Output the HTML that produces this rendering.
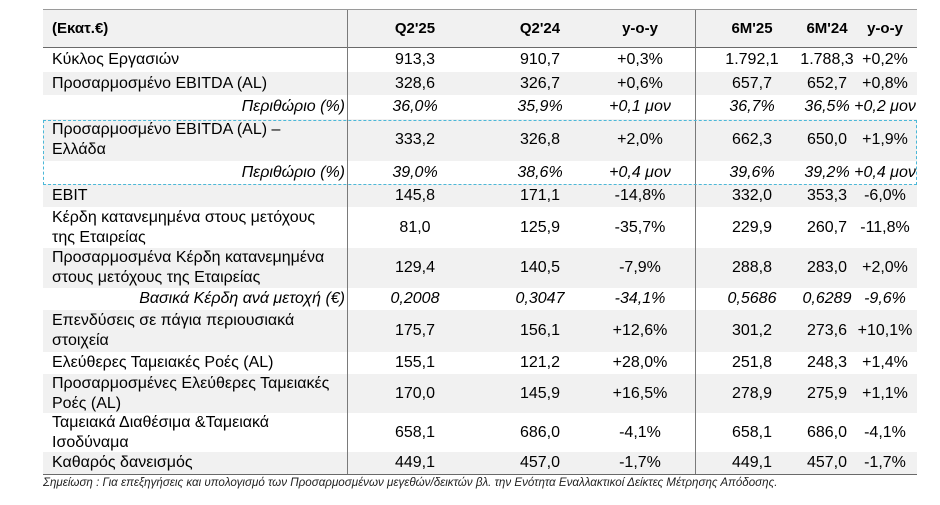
<!DOCTYPE html>
<html><head><meta charset="utf-8">
<style>
body{margin:0;width:940px;height:505px;background:#fff;position:relative;overflow:hidden;font-family:"Liberation Sans","DejaVu Sans",sans-serif;color:#000}
.row{position:absolute;left:43px;width:874px}
.c{position:absolute;top:0;height:100%;display:flex;align-items:center;justify-content:center;font-size:16px;line-height:20px}
.lab{left:9px;width:295px;justify-content:flex-start}
.lab.r{justify-content:flex-end;left:0;width:302px}
.it{font-style:italic}
.hd .c{font-weight:bold;font-size:15px}
.vl{position:absolute;width:1px;background:#7a7a7a}
</style></head><body>
<div id="tbl"></div>
<div style="position:absolute;left:43px;top:9px;width:874px;height:1px;background:#9a9a9a"></div>
<div style="position:absolute;left:43px;top:47px;width:874px;height:1px;background:#6a6a6a"></div>
<div style="position:absolute;left:43px;top:474px;width:874px;height:1px;background:#6a6a6a"></div>
<div class="vl" style="left:347px;top:10px;height:464px"></div>
<div class="vl" style="left:695px;top:10px;height:464px"></div>
<div style="position:absolute;left:43px;top:120px;width:872px;height:63px;border:1px dashed #4bb8d8"></div>
<div style="position:absolute;left:43px;top:476px;font-size:11.6px;font-style:italic;color:#222;white-space:nowrap">Σημείωση : Για επεξηγήσεις και υπολογισμό των Προσαρμοσμένων μεγεθών/δεικτών βλ. την Ενότητα Εναλλακτικοί Δείκτες Μέτρησης Απόδοσης.</div>
<script>
const centers=[415,540,640,752,827,885];
const header=["(Εκατ.€)","Q2'25","Q2'24","y-o-y","6M'25","6M'24","y-o-y"];
const rows=[
["Κύκλος Εργασιών","913,3","910,7","+0,3%","1.792,1","1.788,3","+0,2%",48,72,0,0],
["Προσαρμοσμένο EBITDA (AL)","328,6","326,7","+0,6%","657,7","652,7","+0,8%",72,95,1,0],
["Περιθώριο (%)","36,0%","35,9%","+0,1 μον","36,7%","36,5%","+0,2 μον",95,119,0,1],
["Προσαρμοσμένο EBITDA (AL) –<br>Ελλάδα","333,2","326,8","+2,0%","662,3","650,0","+1,9%",119,161,1,0],
["Περιθώριο (%)","39,0%","38,6%","+0,4 μον","39,6%","39,2%","+0,4 μον",161,184,0,1],
["EBIT","145,8","171,1","-14,8%","332,0","353,3","-6,0%",184,207,1,0],
["Κέρδη κατανεμημένα στους μετόχους<br>της Εταιρείας","81,0","125,9","-35,7%","229,9","260,7","-11,8%",207,248,0,0],
["Προσαρμοσμένα Κέρδη κατανεμημένα<br>στους μετόχους της Εταιρείας","129,4","140,5","-7,9%","288,8","283,0","+2,0%",248,288,1,0],
["Βασικά Κέρδη ανά μετοχή (€)","0,2008","0,3047","-34,1%","0,5686","0,6289","-9,6%",288,310,0,1],
["Επενδύσεις σε πάγια περιουσιακά<br>στοιχεία","175,7","156,1","+12,6%","301,2","273,6","+10,1%",310,352,1,0],
["Ελεύθερες Ταμειακές Ροές (AL)","155,1","121,2","+28,0%","251,8","248,3","+1,4%",352,374,0,0],
["Προσαρμοσμένες Ελεύθερες Ταμειακές<br>Ροές (AL)","170,0","145,9","+16,5%","278,9","275,9","+1,1%",374,413,1,0],
["Ταμειακά Διαθέσιμα &Ταμειακά<br>Ισοδύναμα","658,1","686,0","-4,1%","658,1","686,0","-4,1%",413,452,0,0],
["Καθαρός δανεισμός","449,1","457,0","-1,7%","449,1","457,0","-1,7%",452,474,1,0]
];
const tbl=document.getElementById('tbl');
function mkRow(cells,top,bot,gray,ital,hd,i){
 const r=document.createElement('div');
 r.className='row'+(hd?' hd':'');
 
 
 r.style.top=top+'px';r.style.height=(bot-top)+'px';
 r.style.background=gray?'#f1f1f1':'#fff';
 cells.forEach((t,j)=>{
  const c=document.createElement('div');
  
  
  if(j==0){c.className='c lab'+(ital?' r it':'');}
  else{c.className='c'+(ital?' it':'');c.style.left=(centers[j-1]-43-50)+'px';c.style.width='100px';}
  c.innerHTML=t;r.appendChild(c);
 });
 tbl.appendChild(r);
}
mkRow(header,10,47,1,0,1,0);
rows.forEach((r,i)=>mkRow(r.slice(0,7),r[7],r[8],r[9],r[10],0,i));
</script>
</body></html>
